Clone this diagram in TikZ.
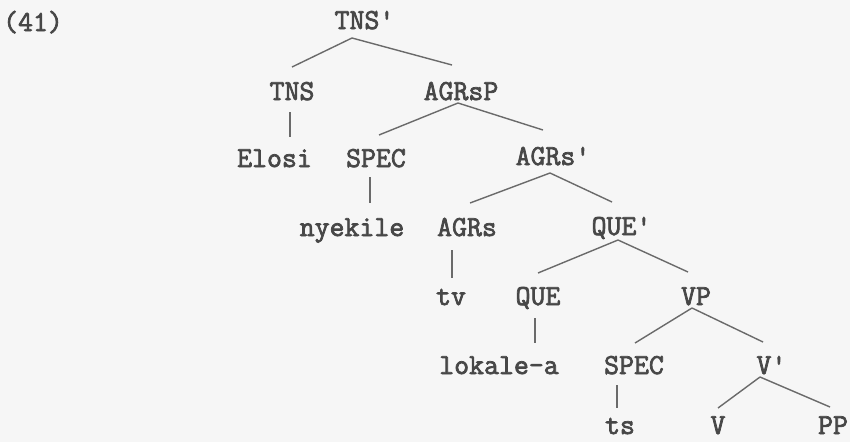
\documentclass[tikz,border=0pt]{standalone}
\usepackage{fontspec}
\newfontfamily\tyfont[FakeBold=2.5]{Latin Modern Mono}
\usetikzlibrary{calc}
\definecolor{ink}{HTML}{474747}
\definecolor{edge}{HTML}{6A6A6A}
\definecolor{paper}{HTML}{F6F6F6}
\tikzset{
  lbl/.style={anchor=base, inner sep=0pt, text=ink, font=\fontsize{29}{29}\selectfont\tyfont},
  br/.style={draw=edge, line width=1.4pt}
}
\newcommand{\pr}{\rlap{'}}
\begin{document}
\begin{tikzpicture}[x=1pt,y=-1pt]
\fill[paper] (0,0) rectangle (850,442);
\useasboundingbox (0,0) rectangle (850,442);
\node[lbl] (ex) at (33,31) {(41)};
\node[lbl] (TNSbar) at (357,29) {TNS\pr};
\node[lbl] (TNS) at (292,100) {TNS};
\node[lbl] (AGRsP) at (461,100) {AGRsP};
\node[lbl] (Elosi) at (274.5,167) {Elosi};
\node[lbl] (SPECa) at (376,167) {SPEC};
\node[lbl] (AGRsbar) at (545.5,165) {AGRs\pr};
\node[lbl] (nyekile) at (352,236) {nyekile};
\node[lbl] (AGRs) at (467,236) {AGRs};
\node[lbl] (QUEbar) at (614,235) {QUE\pr};
\node[lbl] (tv) at (451,305) {tv};
\node[lbl] (QUE) at (538,305) {QUE};
\node[lbl] (VP) at (696,305) {VP};
\node[lbl] (lokale) at (499,374) {lokale-a};
\node[lbl] (SPECb) at (634,374) {SPEC};
\node[lbl] (Vbar) at (764,374) {V\pr};
\node[lbl] (ts) at (620,434) {ts};
\node[lbl] (V) at (718,434) {V};
\node[lbl] (PP) at (833,434) {PP};
% edges
\draw[br] ($(TNSbar.base)+(-5,9)$) -- ($(TNS.base)+(0,-33)$);
\draw[br] ($(TNSbar.base)+(-5,9)$) -- ($(AGRsP.base)+(-9,-35)$);
\draw[br] ($(TNS.base)+(-2,12)$) -- ($(Elosi.base)+(15.5,-30)$);
\draw[br] ($(AGRsP.base)+(-3,3)$) -- ($(SPECa.base)+(3,-32)$);
\draw[br] ($(AGRsP.base)+(-3,3)$) -- ($(AGRsbar.base)+(-2.5,-35)$);
\draw[br] ($(SPECa.base)+(-6,10)$) -- ($(nyekile.base)+(18,-33)$);
\draw[br] ($(AGRsbar.base)+(4.5,8)$) -- ($(AGRs.base)+(3,-33)$);
\draw[br] ($(AGRsbar.base)+(4.5,8)$) -- ($(QUEbar.base)+(-2,-33)$);
\draw[br] ($(AGRs.base)+(-15,14)$) -- ($(tv.base)+(1,-27)$);
\draw[br] ($(QUEbar.base)+(4,5)$) -- ($(QUE.base)+(0,-32)$);
\draw[br] ($(QUEbar.base)+(4,5)$) -- ($(VP.base)+(-8,-33)$);
\draw[br] ($(QUE.base)+(-3,13)$) -- ($(lokale.base)+(36,-31)$);
\draw[br] ($(VP.base)+(-4,3)$) -- ($(SPECb.base)+(1,-31)$);
\draw[br] ($(VP.base)+(-4,3)$) -- ($(Vbar.base)+(-1,-32)$);
\draw[br] ($(SPECb.base)+(-17,11)$) -- ($(ts.base)+(-3,-26)$);
\draw[br] ($(Vbar.base)+(-4,3)$) -- ($(V.base)+(0,-26)$);
\draw[br] ($(Vbar.base)+(-4,3)$) -- ($(PP.base)+(-3,-27)$);
\end{tikzpicture}
\end{document}
